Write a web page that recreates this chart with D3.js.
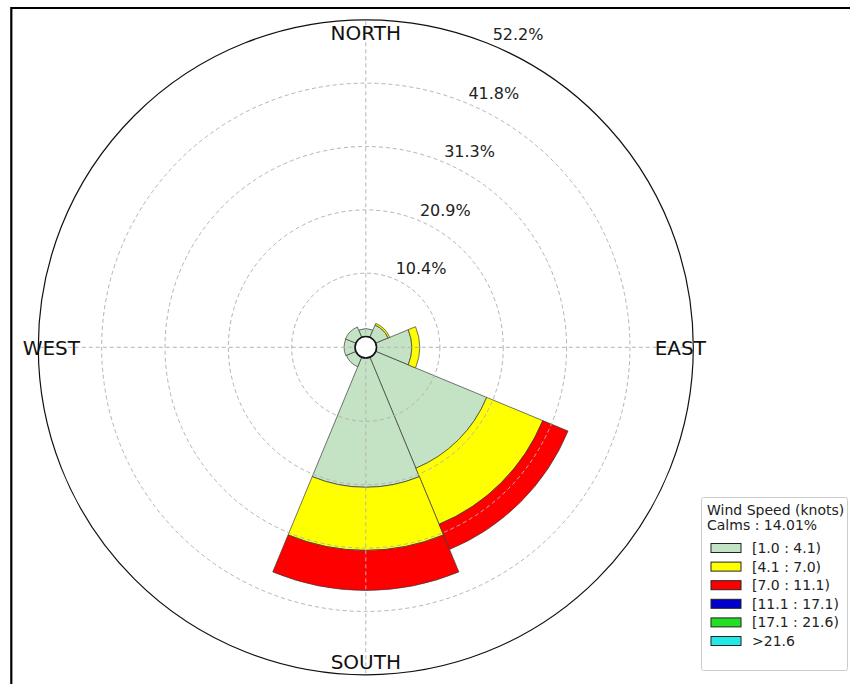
<!DOCTYPE html>
<html>
<head>
<meta charset="utf-8">
<script src="https://cdn.jsdelivr.net/npm/d3@7"></script>
<style>
  html, body { margin: 0; padding: 0; background: #fff; }
  svg { display: block; }
  text { font-family: "DejaVu Sans", sans-serif; }
</style>
</head>
<body>
<svg id="chart" width="850" height="684"></svg>
<script>
// ---- data ----
const directions = ["N", "NE", "E", "SE", "S", "SW", "W", "NW"];
const speedBins = ["[1.0 : 4.1)", "[4.1 : 7.0)", "[7.0 : 11.1)", "[11.1 : 17.1)", "[17.1 : 21.6)", ">21.6"];
const binColors = ["#c4e3c4", "#ffff00", "#ff0000", "#0000cd", "#22e022", "#22e8e8"];
// percentage frequency per direction for each speed bin
const bin1 = [1.3, 2.2, 5.8, 19.8, 21.3, 1.7, 1.8, 1.85];
const bin2 = [0, 0.3, 1.3, 10.0, 10.4, 0, 0, 0];
const bin3 = [0, 0, 0, 4.5, 6.6, 0, 0, 0];
const bin4 = [0, 0, 0, 0, 0, 0, 0, 0];
const bin5 = [0, 0, 0, 0, 0, 0, 0, 0];
const bin6 = [0, 0, 0, 0, 0, 0, 0, 0];
const ringValues = [10.44, 20.88, 31.32, 41.76, 52.2];
const cardinalLabels = ["NORTH", "EAST", "SOUTH", "WEST"];
const cardinalAngles = [0, 90, 180, 270];
const legendTitle = "Wind Speed (knots)";
const calmsText = "Calms : 14.01%";

// ---- layout ----
const cx = 365.8, cy = 347.3, R = 327.5, r0 = 10.75;
const svg = d3.select("#chart");

// frame
svg.append("path")
  .attr("d", "M11.3,684 V8 H850")
  .attr("fill", "none").attr("stroke", "#000").attr("stroke-width", 2.2);

const g = svg.append("g").attr("transform", `translate(${cx},${cy})`);

const rScale = d3.scaleLinear().domain([0, 52.2]).range([r0, R]);
const aScale = d3.scaleLinear().domain([0, directions.length]).range([0, 2 * Math.PI]);
const halfWidth = Math.PI / directions.length;

const bins = [bin1, bin2, bin3, bin4, bin5, bin6];
const rows = directions.map((d, i) => {
  const o = { dir: d, idx: i };
  speedBins.forEach((b, j) => { o[b] = bins[j][i]; });
  return o;
});
const stacked = d3.stack().keys(speedBins)(rows);

const arc = d3.arc();
stacked.forEach((layer, j) => {
  g.append("g").selectAll("path")
    .data(layer.filter(s => s[1] - s[0] > 0))
    .join("path")
    .attr("d", s => arc({
      innerRadius: rScale(s[0]),
      outerRadius: rScale(s[1]),
      startAngle: aScale(s.data.idx) - halfWidth,
      endAngle: aScale(s.data.idx) + halfWidth
    }))
    .attr("fill", binColors[j])
    .attr("stroke", "#3a3a3a")
    .attr("stroke-width", 0.7);
});

// grid on top
const grid = g.append("g").attr("fill", "none").attr("stroke", "#b4b4b4")
  .attr("stroke-width", 1).attr("stroke-dasharray", "4,3");
grid.selectAll("circle").data(ringValues.slice(0, -1)).join("circle")
  .attr("r", v => rScale(v));
grid.selectAll("line").data(cardinalAngles).join("line")
  .attr("x1", 0).attr("y1", 0)
  .attr("x2", a => R * Math.sin(a * Math.PI / 180))
  .attr("y2", a => -R * Math.cos(a * Math.PI / 180));

// calm circle
g.append("circle").attr("r", r0).attr("fill", "#fff")
  .attr("stroke", "#111").attr("stroke-width", 1.6);

// outer spine
g.append("circle").attr("r", R).attr("fill", "none")
  .attr("stroke", "#111").attr("stroke-width", 1.2);

// ring labels at 22.5 deg
const la = 22.5 * Math.PI / 180;
g.selectAll("text.rl").data(ringValues).join("text")
  .attr("class", "rl")
  .attr("x", v => rScale(v) * Math.sin(la) + 1.5)
  .attr("y", v => -rScale(v) * Math.cos(la) - 4.5)
  .attr("font-size", 16).attr("fill", "#222")
  .text(v => v.toFixed(1) + "%");

// cardinal labels
const cr = 314.5;
g.selectAll("text.cl").data(cardinalLabels).join("text")
  .attr("class", "cl")
  .attr("x", (t, i) => cr * Math.sin(cardinalAngles[i] * Math.PI / 180))
  .attr("y", (t, i) => -cr * Math.cos(cardinalAngles[i] * Math.PI / 180) + 7.3)
  .attr("text-anchor", "middle")
  .attr("font-size", 20).attr("fill", "#111")
  .text(t => t);

// legend
const lg = svg.append("g");
lg.append("rect").attr("x", 701.5).attr("y", 497.5).attr("width", 146).attr("height", 173)
  .attr("rx", 2).attr("fill", "#fff").attr("stroke", "#cccccc").attr("stroke-width", 1);
lg.append("text").attr("x", 707).attr("y", 515).attr("font-size", 14).attr("fill", "#222").text(legendTitle);
lg.append("text").attr("x", 707).attr("y", 530).attr("font-size", 14).attr("fill", "#222").text(calmsText);
const rowY = d3.scaleLinear().domain([0, 1]).range([548, 566.6]);
const items = lg.selectAll("g.item").data(speedBins).join("g").attr("class", "item")
  .attr("transform", (d, i) => `translate(0,${rowY(i)})`);
items.append("rect").attr("x", 711).attr("y", -4.5).attr("width", 30).attr("height", 9)
  .attr("fill", (d, i) => binColors[i]).attr("stroke", "#222").attr("stroke-width", 1);
items.append("text").attr("x", 752).attr("y", 5).attr("font-size", 14).attr("fill", "#222").text(d => d);
</script>
</body>
</html>
